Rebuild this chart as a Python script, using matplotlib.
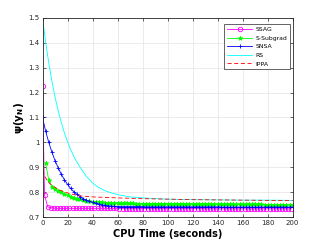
import matplotlib
matplotlib.use('Agg')
import matplotlib.pyplot as plt

# data

t_fast = [0, 2.5, 5, 7.5, 10, 12.5, 15, 17.5, 20, 22.5, 25, 27.5, 30, 32.5, 35, 37.5,
          40, 42.5, 45, 47.5, 50, 52.5, 55, 57.5, 60, 62.5, 65, 67.5, 70, 72.5, 75,
          77.5, 80, 82.5, 85, 87.5, 90, 92.5, 95, 97.5, 100, 102.5, 105, 107.5, 110,
          112.5, 115, 117.5, 120, 122.5, 125, 127.5, 130, 132.5, 135, 137.5, 140,
          142.5, 145, 147.5, 150, 152.5, 155, 157.5, 160, 162.5, 165, 167.5, 170,
          172.5, 175, 177.5, 180, 182.5, 185, 187.5, 190, 192.5, 195, 197.5, 200]

ssag_time = [0, 1.6, 4.2, 6.5, 9, 11.5, 14, 16.5, 19, 21.5, 24, 26.5, 29, 31.5, 34,
             36.5, 39, 41.5, 44, 46.5, 49, 51.5, 54, 56.5, 59, 61.5, 64, 66.5, 69,
             71.5, 74, 76.5, 79, 81.5, 84, 86.5, 89, 91.5, 94, 96.5, 99, 101.5, 104,
             106.5, 109, 111.5, 114, 116.5, 119, 121.5, 124, 126.5, 129, 131.5, 134,
             136.5, 139, 141.5, 144, 146.5, 149, 151.5, 154, 156.5, 159, 161.5, 164,
             166.5, 169, 171.5, 174, 176.5, 179, 181.5, 184, 186.5, 189, 191.5, 194,
             196.5, 199]
ssag = [1.228, 0.788, 0.741, 0.737, 0.736,
        0.735, 0.735, 0.735, 0.735, 0.735, 0.735, 0.735, 0.735, 0.735, 0.735,
        0.735, 0.735, 0.735, 0.735, 0.735, 0.735, 0.735, 0.735, 0.735, 0.735,
        0.734, 0.734, 0.734, 0.734, 0.734, 0.734, 0.734, 0.734, 0.734, 0.734,
        0.734, 0.734, 0.734, 0.734, 0.734, 0.734, 0.734, 0.734, 0.734, 0.734,
        0.734, 0.734, 0.734, 0.734, 0.734, 0.734, 0.734, 0.734,
        0.733, 0.733, 0.733, 0.733, 0.733, 0.733, 0.733, 0.733, 0.733, 0.733,
        0.733, 0.733, 0.733, 0.733, 0.733, 0.733, 0.733, 0.733, 0.733, 0.733,
        0.733, 0.733, 0.733, 0.733, 0.733, 0.733, 0.733, 0.733]

subgrad = [0.916, 0.848, 0.822, 0.812, 0.805, 0.799, 0.793, 0.787, 0.782, 0.778,
           0.774, 0.771, 0.768, 0.766, 0.764, 0.762, 0.761, 0.760, 0.759, 0.758,
           0.757, 0.757, 0.756, 0.756, 0.756, 0.755, 0.755, 0.755, 0.755, 0.754,
           0.754, 0.754, 0.754, 0.754, 0.754, 0.754, 0.754, 0.754, 0.754, 0.754,
           0.753, 0.753, 0.753, 0.753, 0.753, 0.753, 0.753, 0.753, 0.753, 0.753,
           0.752, 0.752, 0.752, 0.752, 0.752, 0.752, 0.752, 0.752, 0.752, 0.752,
           0.751, 0.751, 0.751, 0.751, 0.751, 0.751, 0.751, 0.751, 0.751, 0.751,
           0.750, 0.750, 0.750, 0.750, 0.750, 0.750, 0.750, 0.750, 0.750, 0.750]

snsa = [1.100, 1.045, 1.000, 0.961, 0.927, 0.898, 0.872, 0.850, 0.831, 0.815,
        0.802, 0.791, 0.782, 0.774, 0.768, 0.763, 0.759, 0.755, 0.751, 0.749,
        0.747, 0.745, 0.744, 0.743, 0.742,
        0.742, 0.742, 0.742, 0.742, 0.742, 0.742, 0.742, 0.742,
        0.741, 0.741, 0.741, 0.741, 0.741, 0.741, 0.741, 0.741, 0.741, 0.741,
        0.741, 0.741, 0.741, 0.741, 0.741, 0.741, 0.741, 0.741, 0.741, 0.741,
        0.741, 0.741, 0.741, 0.741,
        0.740, 0.740, 0.740, 0.740, 0.740, 0.740, 0.740, 0.740, 0.740, 0.740,
        0.740, 0.740, 0.740, 0.740, 0.740, 0.740, 0.740, 0.740, 0.740, 0.740,
        0.740, 0.740, 0.740, 0.740]

rs_time = [0, 2.5, 5, 7.5, 10, 12.5, 15, 17.5, 20, 22.5, 25, 27.5, 30, 35, 40, 45,
           50, 55, 60, 70, 80, 90, 100, 120, 140, 160, 180, 200]
rs = [1.500, 1.403, 1.319, 1.246, 1.182, 1.128, 1.080, 1.038, 1.002, 0.971, 0.944,
      0.921, 0.900, 0.864, 0.837, 0.818, 0.806, 0.797, 0.790, 0.781, 0.777, 0.774,
      0.772, 0.770, 0.769, 0.768, 0.768, 0.767]

ippa_time = [0, 2, 4, 6, 8, 10, 14, 18, 22, 26, 30, 35, 40, 50, 60, 80, 100, 120,
             140, 160, 180, 200]
ippa = [0.888, 0.862, 0.845, 0.834, 0.826, 0.819, 0.808, 0.800, 0.794, 0.789,
        0.785, 0.783, 0.781, 0.779, 0.777, 0.774, 0.772, 0.770, 0.769, 0.768,
        0.767, 0.766]

x_ticks = [0, 20, 40, 60, 80, 100, 120, 140, 160, 180, 200]
y_ticks = [0.7, 0.8, 0.9, 1.0, 1.1, 1.2, 1.3, 1.4, 1.5]
y_labels = ['0.7', '0.8', '0.9', '1', '1.1', '1.2', '1.3', '1.4', '1.5']

# figure

fig = plt.figure(figsize=(3.27, 2.45), dpi=100)
ax = fig.add_axes([0.130, 0.114, 0.765, 0.813])

lw = 0.6
ax.plot(ssag_time, ssag, color='#ff00ff', lw=lw, marker='o', ms=3.2,
        mfc='none', mew=0.6, label='SSAG')
ax.plot(t_fast[1:], subgrad, color='#00ff00', lw=lw, marker='*', ms=3.2,
        mew=0.6, label='S-Subgrad')
ax.plot(t_fast, snsa, color='#0000ff', lw=lw, marker='+', ms=3.5,
        mew=0.6, label='SNSA')
ax.plot(rs_time, rs, color='#00ffff', lw=lw, label='RS')
ax.plot(ippa_time, ippa, color='#ff0000', lw=lw, ls=(0, (5, 3)), label='IPPA')

ax.set_xlim(0, 200)
ax.set_ylim(0.7, 1.5)
ax.set_xticks(x_ticks)
ax.set_yticks(y_ticks)
ax.set_yticklabels(y_labels)

gray = '#262626'
ax.grid(True, color='#e3e3e3', lw=0.5)
ax.set_axisbelow(True)
ax.tick_params(direction='in', length=2.5, width=0.5, top=True, right=True,
               labelsize=5, colors=gray, pad=2)
for sp in ax.spines.values():
    sp.set_color(gray)
    sp.set_linewidth(0.6)

ax.set_xlabel('CPU Time (seconds)', fontsize=7, fontweight='bold', labelpad=2)
ax.set_ylabel(r'ψ(y$_\mathbf{N}$)', fontsize=7.5, fontweight='bold', labelpad=2)

leg = ax.legend(loc='upper right', bbox_to_anchor=(0.887, 0.902),
                bbox_transform=fig.transFigure, borderaxespad=0, fontsize=4.4,
                numpoints=1, handlelength=4.2, labelspacing=0.55,
                borderpad=0.45, handletextpad=0.5, fancybox=False, framealpha=1)
leg.get_frame().set_edgecolor(gray)
leg.get_frame().set_linewidth(0.5)

fig.savefig('out.png', dpi=100)
